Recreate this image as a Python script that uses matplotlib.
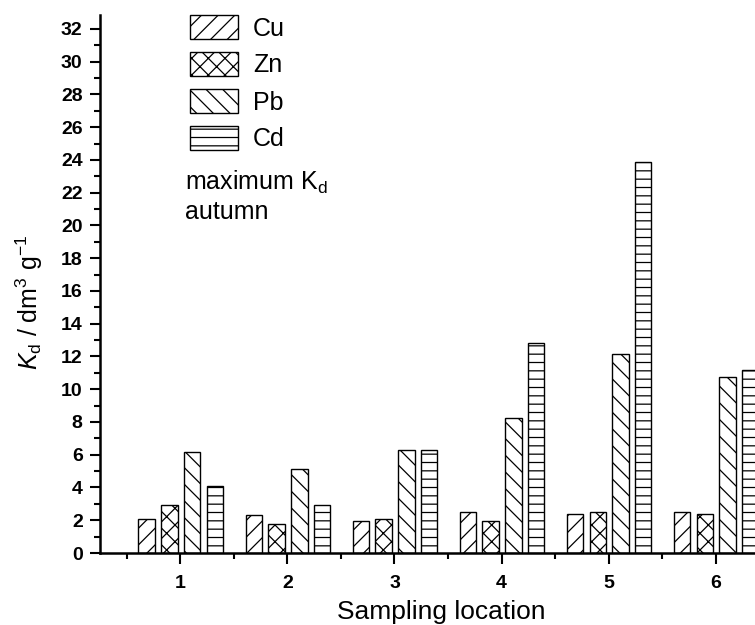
import matplotlib
matplotlib.use("Agg")
import matplotlib.pyplot as plt
import numpy as np
from matplotlib.ticker import MultipleLocator

# ---- data ----
locations = [1, 2, 3, 4, 5, 6]
cu = [2.05, 2.3, 1.97, 2.52, 2.4, 2.52]
zn = [2.92, 1.78, 2.05, 1.97, 2.52, 2.4]
pb = [6.17, 5.1, 6.28, 8.23, 12.15, 10.77]
cd = [4.1, 2.93, 6.28, 12.8, 23.85, 11.2]
series_labels = ["Cu", "Zn", "Pb", "Cd"]
hatches = ["//", "xx", "\\\\", "--"]
y_ticks = list(range(0, 33, 2))

plt.rcParams['font.family'] = ['Liberation Sans', 'DejaVu Sans']
plt.rcParams['mathtext.fontset'] = 'custom'
plt.rcParams['mathtext.rm'] = 'Liberation Sans'
plt.rcParams['mathtext.it'] = 'Liberation Sans:italic'
plt.rcParams['mathtext.bf'] = 'Liberation Sans:bold'
plt.rcParams['hatch.linewidth'] = 0.9

W, H = 755, 625
fig = plt.figure(figsize=(W / 100, H / 100), dpi=100)
# axes spans x-range 0.25..6.75 from px 100 to 796 (cropped at figure edge)
left_px, right_px, bottom_px, top_px = 100, 796, 553, 15
ax = fig.add_axes([left_px / W, 1 - bottom_px / H,
                   (right_px - left_px) / W, (bottom_px - top_px) / H])

x = np.array(locations, dtype=float)
width = 0.155
step = 0.212
handles = []
for i, (vals, lab, h) in enumerate(zip([cu, zn, pb, cd], series_labels, hatches)):
    b = ax.bar(x + (i - 1.5) * step + 0.005, vals, width, color='white',
               edgecolor='black', linewidth=1.0, hatch=h, label=lab, zorder=2)
    handles.append(b)

ax.set_xlim(0.25, 6.75)
ax.set_ylim(0, 32.85)
ax.set_xticks(locations)
ax.set_xticks([v + 0.5 for v in [0] + locations], minor=True)
ax.set_yticks(y_ticks)
ax.yaxis.set_minor_locator(MultipleLocator(1))

for s in ['top', 'right']:
    ax.spines[s].set_visible(False)
for s in ['left', 'bottom']:
    ax.spines[s].set_linewidth(1.8)

ax.tick_params(axis='both', which='major', direction='out', width=1.5,
               labelsize=14)
ax.tick_params(axis='y', which='major', length=7.5, pad=5)
ax.tick_params(axis='y', which='minor', length=4, width=1.5)
ax.tick_params(axis='x', which='major', length=8, pad=8)
ax.tick_params(axis='x', which='minor', length=4.5, width=1.5)
for t in ax.get_xticklabels() + ax.get_yticklabels():
    t.set_fontweight('bold')

fig.text(441 / W, 1 - 612 / H, "Sampling location", ha='center',
         va='center', fontsize=19)
fig.text(29 / W, 1 - 302 / H, r"$K_\mathrm{d}$ / dm$^3$ g$^{-1}$",
         rotation=90, ha='center', va='center', fontsize=18)

leg = ax.legend(handles=handles, loc='upper left',
                bbox_to_anchor=(190 / W, 1 - 15 / H),
                bbox_transform=fig.transFigure, frameon=False,
                fontsize=18, handlelength=1.92, handleheight=1.1,
                handletextpad=0.6, labelspacing=0.46, borderpad=0,
                borderaxespad=0)

fig.text(185 / W, 1 - 182 / H, r"maximum K$_\mathrm{d}$", ha='left',
         va='center', fontsize=18)
fig.text(185 / W, 1 - 212 / H, "autumn", ha='left', va='center', fontsize=18)

fig.savefig("out.png", dpi=100)
